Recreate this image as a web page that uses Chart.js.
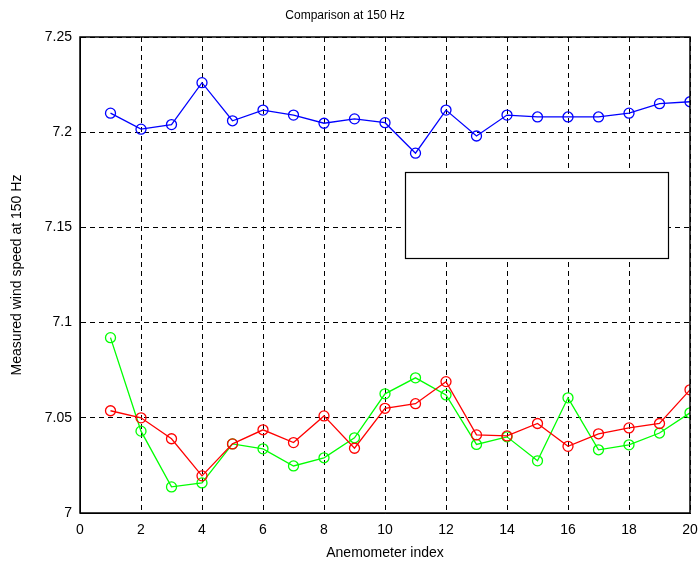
<!DOCTYPE html>
<html>
<head>
<meta charset="utf-8">
<script src="https://cdn.jsdelivr.net/npm/chart.js@4.4.1/dist/chart.umd.min.js"></script>
<style>
  html, body { margin: 0; padding: 0; background: #fff; }
  #wrap { width: 698px; height: 562px; }
</style>
</head>
<body>
<div id="wrap"><canvas id="chart"></canvas></div>
<script>
    var indices = [1, 2, 3, 4, 5, 6, 7, 8, 9, 10, 11, 12, 13, 14, 15, 16, 17, 18, 19, 20];
    var blueValues = [7.210, 7.2016, 7.204, 7.226, 7.206, 7.2116, 7.209, 7.2047, 7.207, 7.205,
                      7.189, 7.2116, 7.198, 7.209, 7.208, 7.208, 7.208, 7.210, 7.215, 7.216];
    var redValues = [7.0537, 7.050, 7.039, 7.0195, 7.0363, 7.0437, 7.037, 7.051, 7.034, 7.055,
                     7.0574, 7.069, 7.041, 7.0405, 7.047, 7.035, 7.0416, 7.0447, 7.047, 7.0647];
    var greenValues = [7.0921, 7.043, 7.0137, 7.0158, 7.0363, 7.0337, 7.0247, 7.029, 7.0395, 7.0626,
                       7.071, 7.062, 7.036, 7.040, 7.0274, 7.0605, 7.0332, 7.0358, 7.042, 7.0526];
    var xTicks = [0, 2, 4, 6, 8, 10, 12, 14, 16, 18, 20];
    var yTicks = [7, 7.05, 7.1, 7.15, 7.2, 7.25];
    // empty legend box, in data units
    var legendBox = { x0: 10.66, x1: 19.28, y0: 7.179, y1: 7.1337 };

    var FONT = 'Liberation Sans, Arial, sans-serif';

    function toPoints(vals){
        return indices.map(function(ix, i){ return { x: ix, y: vals[i] }; });
    }

    function makeSeries(vals, color){
        return {
            data: toPoints(vals),
            borderColor: color,
            backgroundColor: 'rgba(0,0,0,0)',
            borderWidth: 1.3,
            pointRadius: 5,
            pointHoverRadius: 5,
            pointBorderWidth: 1.3,
            pointBackgroundColor: 'rgba(0,0,0,0)',
            pointBorderColor: color,
            tension: 0
        };
    }

    var boxPlugin = {
        id: 'boxPlugin',
        afterDatasetsDraw: function(chart){
            var ctx = chart.ctx, a = chart.chartArea;
            var xs = chart.scales.x, ys = chart.scales.y;
            ctx.save();
            ctx.strokeStyle = '#000';
            ctx.lineWidth = 1.5;
            ctx.strokeRect(Math.round(a.left), Math.round(a.top),
                Math.round(a.right - a.left), Math.round(a.bottom - a.top));
            var l = xs.getPixelForValue(legendBox.x0), r = xs.getPixelForValue(legendBox.x1);
            var t = ys.getPixelForValue(legendBox.y0), b = ys.getPixelForValue(legendBox.y1);
            ctx.fillStyle = '#fff';
            ctx.fillRect(l, t, r - l, b - t);
            ctx.lineWidth = 1.2;
            ctx.strokeRect(Math.round(l) + 0.5, Math.round(t) + 0.5, Math.round(r - l), Math.round(b - t));
            ctx.restore();
        },
        beforeDraw: function(chart){
            var ctx = chart.ctx;
            ctx.save();
            ctx.fillStyle = '#fff';
            ctx.fillRect(0, 0, chart.width, chart.height);
            ctx.restore();
        }
    };

    var chartInstance = new Chart(document.getElementById('chart'), {
        type: 'line',
        data: {
            datasets: [
                makeSeries(blueValues, '#0000ff'),
                makeSeries(redValues, '#ff0000'),
                makeSeries(greenValues, '#00ff00')
            ]
        },
        options: {
            responsive: true,
            maintainAspectRatio: false,
            animation: false,
            layout: { padding: { left: 0, right: 8, top: 0, bottom: 0 } },
            plugins: {
                legend: { display: false },
                tooltip: { enabled: false },
                title: {
                    display: true,
                    text: 'Comparison at 150 Hz',
                    color: '#000',
                    font: { family: FONT, size: 12, weight: 'normal' },
                    padding: { top: 8, bottom: 14.6 }
                }
            },
            scales: {
                x: {
                    type: 'linear',
                    min: 0,
                    max: 20,
                    afterBuildTicks: function(scale){
                        scale.ticks = xTicks.map(function(v){ return { value: v }; });
                    },
                    afterFit: function(scale){
                        scale.height = 49;
                        scale.paddingLeft = 0;
                        scale.paddingRight = 0;
                    },
                    ticks: {
                        color: '#000',
                        font: { family: FONT, size: 14 },
                        padding: 9,
                        maxRotation: 0
                    },
                    grid: { color: '#000', lineWidth: 1, drawTicks: false },
                    border: { display: true, color: '#000', dash: [5, 4] },
                    title: {
                        display: true,
                        text: 'Anemometer index',
                        color: '#000',
                        font: { family: FONT, size: 14 },
                        padding: { top: 0, bottom: 0 }
                    }
                },
                y: {
                    type: 'linear',
                    min: 7,
                    max: 7.25,
                    afterBuildTicks: function(scale){
                        scale.ticks = yTicks.map(function(v){ return { value: v }; });
                    },
                    afterFit: function(scale){
                        scale.width = 80;
                        scale.paddingTop = 0;
                        scale.paddingBottom = 0;
                    },
                    ticks: {
                        color: '#000',
                        font: { family: FONT, size: 14 },
                        padding: 8,
                        callback: function(v){ return String(+Number(v).toFixed(2)); }
                    },
                    grid: { color: '#000', lineWidth: 1, drawTicks: false },
                    border: { display: true, color: '#000', dash: [5, 4] },
                    title: {
                        display: true,
                        text: 'Measured wind speed at 150 Hz',
                        color: '#000',
                        font: { family: FONT, size: 14 },
                        padding: { top: 9, bottom: 0 }
                    }
                }
            }
        },
        plugins: [boxPlugin]
    });
</script>
</body>
</html>
